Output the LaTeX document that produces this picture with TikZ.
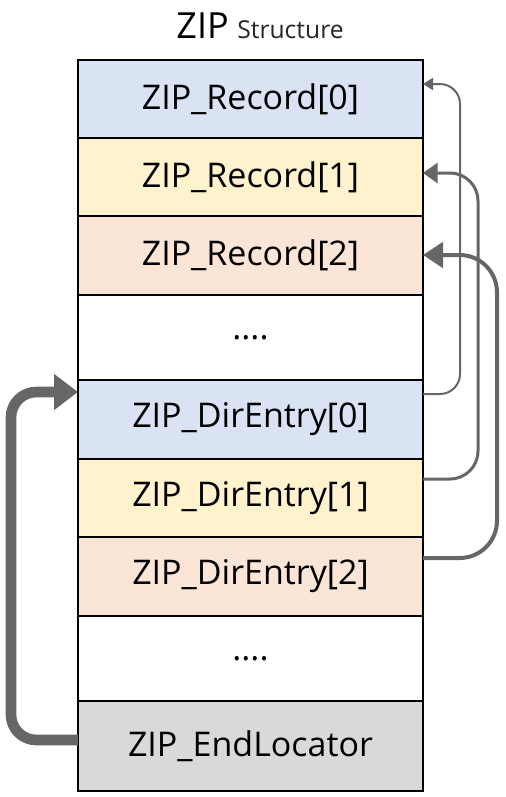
\documentclass[tikz,border=0pt]{standalone}
\usepackage{fontspec}
\setmainfont{Open Sans}
\usetikzlibrary{arrows.meta,calc,positioning}
\definecolor{rowblue}{HTML}{DAE3F3}
\definecolor{rowyellow}{HTML}{FFF2CC}
\definecolor{roworange}{HTML}{FBE5D6}
\definecolor{rowgray}{HTML}{D9D9D9}
\definecolor{linkgray}{HTML}{666666}

\begin{document}
\begin{tikzpicture}[x=0.75pt,y=-0.75pt,
  row/.style={draw,line width=1.5pt,inner sep=0pt,outer sep=0pt,minimum width=258.75pt,font=\fontsize{25.5}{28}\selectfont},
  link/.style={draw=linkgray}]
\useasboundingbox (0,0) rectangle (506,797);
% title
\node[font=\fontsize{27}{30}\selectfont,anchor=base east,inner sep=0pt] (ziptitle) at (229,38) {ZIP};
\node[font=\fontsize{18.5}{21}\selectfont,text=black!85,anchor=base west,inner sep=0pt] (structtitle) at ([xshift=6pt]ziptitle.base east) {Structure};
% rows of the file
\foreach \n/\t/\c/\ya/\yb in {rec0/{ZIP\_Record[0]}/rowblue/60/138,rec1/{ZIP\_Record[1]}/rowyellow/138/216,rec2/{ZIP\_Record[2]}/roworange/216/295,gap1/{....}/white/295/380,dir0/{ZIP\_DirEntry[0]}/rowblue/380/459,dir1/{ZIP\_DirEntry[1]}/rowyellow/459/537,dir2/{ZIP\_DirEntry[2]}/roworange/537/616,gap2/{....}/white/616/701,endloc/{ZIP\_EndLocator}/rowgray/701/791}
  \node[row,fill=\c,minimum height={(\yb-\ya)*0.75pt}] (\n) at (250.5,{(\ya+\yb)/2}) {\t};
% directory entries point back to their records
\draw[link,line width=1.5pt,rounded corners=15pt,-{Triangle[length=7.5pt,width=9pt]}] ($(dir0.north east)+(0,14)$) -- ++(37,0) |- ($(rec0.north east)+(0,24)$);
\draw[link,line width=2.25pt,rounded corners=21pt,-{Triangle[length=11pt,width=15pt]}] ($(dir1.north east)+(0,20)$) -- ++(55,0) |- ($(rec1.north east)+(0,35)$);
\draw[link,line width=3pt,rounded corners=28pt,-{Triangle[length=15pt,width=19pt]}] ($(dir2.north east)+(0,21)$) -- ++(74,0) |- ($(rec2.north east)+(0,39)$);
% end locator points to the directory
\draw[link,line width=8pt,rounded corners=19pt,-{Triangle[length=18pt,width=26pt]}] ($(endloc.north west)+(0,39)$) -- ++(-67,0) |- ($(dir0.north west)+(0,12)$);
\end{tikzpicture}
\end{document}
